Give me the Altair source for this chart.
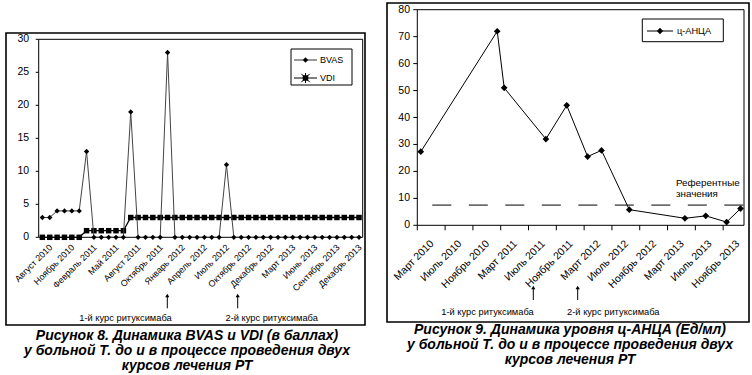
import altair as alt
import pandas as pd

# ---------------- data: Рисунок 8 (BVAS / VDI, visits) ----------------
bvas = [3, 3, 4, 4, 4, 4, 13, 0, 0, 0, 0, 0, 19, 0, 0, 0, 0, 28, 0, 0, 0, 0,
        0, 0, 0, 11, 0, 0, 0, 0, 0, 0, 0, 0, 0, 0, 0, 0, 0, 0, 0, 0, 0, 0]
vdi = [0, 0, 0, 0, 0, 0, 1, 1, 1, 1, 1, 1, 3, 3, 3, 3, 3, 3, 3, 3, 3, 3,
       3, 3, 3, 3, 3, 3, 3, 3, 3, 3, 3, 3, 3, 3, 3, 3, 3, 3, 3, 3, 3, 3]
left_tick_labels = ["Август 2010", "Ноябрь 2010", "Февраль 2011", "Май 2011",
                    "Август 2011", "Октябрь 2011", "Январь 2012", "Апрель 2012",
                    "Июль 2012", "Октябрь 2012", "Декабрь 2012", "Март 2013",
                    "Июнь 2013", "Сентябрь 2013", "Декабрь 2013"]
left_label_every = 3
left_y_ticks = [0, 5, 10, 15, 20, 25, 30]

# ---------------- data: Рисунок 9 (ц-АНЦА, monthly date axis) ----------------
anca_months = ["2010-03", "2011-02", "2011-03", "2011-09", "2011-12", "2012-03",
               "2012-05", "2012-09", "2013-05", "2013-08", "2013-11", "2014-01"]
anca_values = [27.3, 72, 51, 32, 44.5, 25.5, 27.8, 5.8, 2.6, 3.5, 1.2, 6.2]
reference_value = 7.5
right_tick_labels = ["Март 2010", "Июль 2010", "Ноябрь 2010", "Март 2011",
                     "Июль 2011", "Ноябрь 2011", "Март 2012", "Июль 2012",
                     "Ноябрь 2012", "Март 2013", "Июль 2013", "Ноябрь 2013"]
right_label_every = 4
right_y_ticks = [0, 10, 20, 30, 40, 50, 60, 70, 80]

# ---------------- texts ----------------
legend_left = ["BVAS", "VDI"]
legend_right = ["ц-АНЦА"]
course_labels = ["1-й курс ритуксимаба", "2-й курс ритуксимаба"]
reference_label = ["Референтные", "значения"]
caption_left = ["Рисунок 8. Динамика BVAS и VDI (в баллах)",
                "у больной Т. до и в процессе проведения двух",
                "курсов лечения РТ"]
caption_right = ["Рисунок 9. Динамика уровня ц-АНЦА (Ед/мл)",
                 "у больной Т. до и в процессе проведения двух",
                 "курсов лечения РТ"]

W, H = 752, 375
SANS = "Liberation Sans, Arial, sans-serif"

one = pd.DataFrame({"k": [0]})


def box(x0, x1, y0, y1, width=1.0, fill=None):
    kw = dict(stroke="black", strokeWidth=width)
    if fill:
        kw["fill"] = fill
    else:
        kw["fillOpacity"] = 0
    return alt.Chart(one).mark_rect(**kw).encode(
        x=alt.value(x0), x2=alt.value(x1), y=alt.value(y0), y2=alt.value(y1))


def hrule(x0, x1, y, color="black", width=1.0):
    return alt.Chart(one).mark_rule(color=color, strokeWidth=width).encode(
        x=alt.value(x0), x2=alt.value(x1), y=alt.value(y))


def vrule(x, y0, y1, color="black", width=1.0):
    return alt.Chart(one).mark_rule(color=color, strokeWidth=width).encode(
        x=alt.value(x), y=alt.value(y0), y2=alt.value(y1))


def sym(x, y, shape, size, filled=True, width=1.0):
    return alt.Chart(one).mark_point(shape=shape, size=size, filled=filled,
                                     color="black", opacity=1,
                                     strokeWidth=width).encode(
        x=alt.value(x), y=alt.value(y))


def txt(text, x, y, size, align="center", weight="normal", style="normal", lh=None):
    kw = dict(align=align, baseline="middle", fontSize=size, font=SANS,
              fontWeight=weight, fontStyle=style, color="black")
    if lh:
        kw["lineHeight"] = lh
    return alt.Chart(one).mark_text(**kw).encode(
        x=alt.value(x), y=alt.value(y), text=alt.value(text))


# ================= LEFT PANEL =================
LX0, LX1, LY0, LY1 = 38.7, 362.7, 237.3, 39.3
n_left = len(bvas)
left_df = pd.DataFrame({"i": list(range(n_left)), "BVAS": bvas, "VDI": vdi})
lx_scale = alt.Scale(domain=[-0.5, n_left - 0.5], range=[LX0, LX1], nice=False, zero=False)
ly_scale = alt.Scale(domain=[0, 30], range=[LY0, LY1], nice=False)


def LX(f):
    return alt.X(f, scale=lx_scale, axis=None)


def LY(f):
    return alt.Y(f, scale=ly_scale, axis=None)


lbase = alt.Chart(left_df)
l_vdi_line = lbase.mark_line(color="black", strokeWidth=1.3).encode(x=LX("i:Q"), y=LY("VDI:Q"))
l_vdi_pts = lbase.mark_point(shape="square", filled=True, size=30, color="black",
                             opacity=1).encode(x=LX("i:Q"), y=LY("VDI:Q"))
l_bvas_line = lbase.mark_line(color="#444444", strokeWidth=1).encode(x=LX("i:Q"), y=LY("BVAS:Q"))
l_bvas_pts = lbase.mark_point(shape="diamond", filled=True, size=28, color="black",
                              opacity=1).encode(x=LX("i:Q"), y=LY("BVAS:Q"))

# left axes (drawn through the panel scales)
l_xt_df = pd.DataFrame({"i": list(range(0, n_left, left_label_every))[:len(left_tick_labels)],
                        "label": left_tick_labels})
l_yt_df = pd.DataFrame({"v": left_y_ticks})
l_xlabels = alt.Chart(l_xt_df).mark_text(
    angle=315, align="right", baseline="middle", fontSize=8.9, font=SANS,
    color="black", dx=0, dy=12).encode(x=LX("i:Q"), y=alt.value(LY0), text="label:N")
l_yticks = alt.Chart(l_yt_df).mark_rule(color="black", strokeWidth=1).encode(
    y=LY("v:Q"), x=alt.value(LX0 - 3), x2=alt.value(LX0))
l_ylabels = alt.Chart(l_yt_df).mark_text(
    align="right", baseline="middle", fontSize=10.5, font=SANS, color="black").encode(
    y=LY("v:Q"), x=alt.value(LX0 - 9.5), text="v:Q")

left_panel = alt.layer(l_vdi_line, l_vdi_pts, l_bvas_line, l_bvas_pts,
                       l_xlabels, l_yticks, l_ylabels)

# ================= RIGHT PANEL =================
RX0, RX1, RY0, RY1 = 417.3, 744.0, 225.3, 9.7
n_months = 47
month_idx = [(int(s[:4]) - 2010) * 12 + int(s[5:7]) - 3 for s in anca_months]
right_df = pd.DataFrame({"m": [v + 0.5 for v in month_idx], "anca": anca_values})
rx_scale = alt.Scale(domain=[0, n_months], range=[RX0, RX1], nice=False, zero=False)
ry_scale = alt.Scale(domain=[0, 80], range=[RY0, RY1], nice=False)


def RX(f):
    return alt.X(f, scale=rx_scale, axis=None)


def RY(f):
    return alt.Y(f, scale=ry_scale, axis=None)


rbase = alt.Chart(right_df)
r_line = rbase.mark_line(color="black", strokeWidth=1).encode(x=RX("m:Q"), y=RY("anca:Q"))
r_pts = rbase.mark_point(shape="diamond", filled=True, size=45, color="black",
                         opacity=1).encode(x=RX("m:Q"), y=RY("anca:Q"))
r_ref = alt.Chart(one).mark_rule(color="black", strokeWidth=1, strokeDash=[19, 17.5],
                                 strokeDashOffset=21.5).encode(
    x=alt.value(RX0), x2=alt.value(RX1),
    y=alt.Y(datum=reference_value, scale=ry_scale, axis=None))

r_xt_df = pd.DataFrame({"m": [k * right_label_every for k in range(len(right_tick_labels))],
                        "label": right_tick_labels})
r_yt_df = pd.DataFrame({"v": right_y_ticks})
r_xticks = alt.Chart(r_xt_df).mark_rule(color="black", strokeWidth=1).encode(
    x=RX("m:Q"), y=alt.value(RY0), y2=alt.value(RY0 + 5))
r_xlabels = alt.Chart(r_xt_df).mark_text(
    angle=315, align="right", baseline="middle", fontSize=10.5, font=SANS,
    color="black", dx=-1.4, dy=22.5).encode(x=RX("m:Q"), y=alt.value(RY0), text="label:N")
r_yticks = alt.Chart(r_yt_df).mark_rule(color="black", strokeWidth=1).encode(
    y=RY("v:Q"), x=alt.value(RX0 - 4), x2=alt.value(RX0))
r_ylabels = alt.Chart(r_yt_df).mark_text(
    align="right", baseline="middle", fontSize=10.5, font=SANS, color="black").encode(
    y=RY("v:Q"), x=alt.value(RX0 - 7.3), text="v:Q")

right_panel = alt.layer(r_ref, r_line, r_pts, r_xticks, r_xlabels, r_yticks, r_ylabels)

# ================= decorations =================
decor = [
    # outer frames
    box(6, 365, 33, 325, width=1.6),
    box(387, 749, 3, 322, width=1.6),
    # plot-area borders (also the axis lines)
    box(LX0, LX1, LY1, LY0, width=1),
    box(RX0, RX1, RY1, RY0, width=1),
    # left legend
    box(291, 352, 49, 85, width=1, fill="white"),
    hrule(294, 317, 60, color="#333333"),
    sym(305.5, 60, "diamond", 28),
    txt(legend_left[0], 320, 60, 9, align="left"),
    hrule(294, 317, 78),
    sym(305.5, 78, "square", 30),
    sym(305.5, 78, "M-1,-1L1,1M1,-1L-1,1M0,-1.2L0,1.2", 70, filled=False, width=1),
    txt(legend_left[1], 320, 78, 9, align="left"),
    # right legend
    box(642.3, 723.3, 19, 41.7, width=1, fill="white"),
    hrule(647, 673, 31),
    sym(660, 31, "diamond", 40),
    txt(legend_right[0], 677, 31, 9.2, align="left"),
    # reference label
    txt(reference_label, 676, 182.7, 9.8, align="left", lh=11.5),
    # course arrows (left)
    vrule(167.3, 297, 308.3),
    sym(167.3, 295.5, "triangle-up", 18),
    vrule(237.7, 297, 308.3),
    sym(237.7, 295.5, "triangle-up", 18),
    txt(course_labels[0], 125.5, 317.5, 9.3),
    txt(course_labels[1], 271.7, 317.5, 9.3),
    # course arrows (right)
    vrule(533.3, 288.5, 300),
    sym(533.3, 287.5, "triangle-up", 18),
    vrule(577.7, 288.5, 300),
    sym(577.7, 287.5, "triangle-up", 18),
    txt(course_labels[0], 487.5, 311.7, 9.3),
    txt(course_labels[1], 613.3, 311.7, 9.3),
    # captions
    txt(caption_left, 187, 336, 14, weight="bold", style="italic", lh=15),
    txt(caption_right, 570, 330, 14, weight="bold", style="italic", lh=15),
]

chart = alt.layer(*decor, left_panel, right_panel).resolve_scale(
    x="independent", y="independent"
).properties(
    width=W, height=H, padding=0, autosize=alt.AutoSizeParams(type="none"),
    background="white"
).configure_view(stroke=None)

chart.save("out.html", embed_options={"renderer": "svg", "actions": False})
